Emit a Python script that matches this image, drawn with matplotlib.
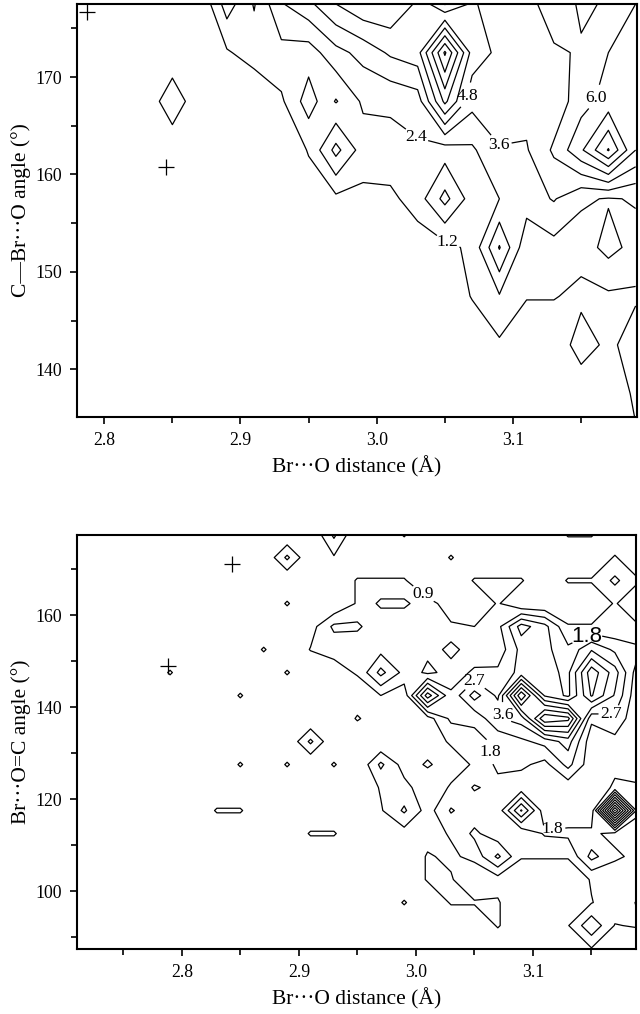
import numpy as np
import matplotlib.pyplot as plt
from matplotlib.ticker import MultipleLocator

plt.rcParams['font.family'] = ['Liberation Serif', 'DejaVu Serif']

# ---- upper panel: C-Br...O angle vs Br...O distance ----
top_x = np.round(np.arange(2.79, 3.191, 0.02), 2)          # bin centres (A)
top_y = np.array([177.5, 172.5, 167.5, 162.5, 157.5, 152.5, 147.5, 142.5, 137.5, 132.5])
top_counts = [
    [0, 0, 0, 0, 0, 3, 1.1, 3.5, 4.5, 6, 7, 7, 5.8, 3.5, 5, 4, 4, 6, 4.5, 5, 6],
    [0, 0, 0, 0, 0, 1.05, 1.8, 2.0, 1.8, 3.2, 4, 5, 5.5, 11, 5.5, 4.5, 4, 4.5, 5, 6, 6.5],
    [0, 0, 0, 2.3, 0, 0, 0, 1.0, 3, 1.1, 2.6, 2.6, 3, 7.5, 4, 4.5, 4, 4, 5.5, 6.5, 7],
    [0, 0, 0, 0, 0, 0, 0, 0, 1.3, 4, 1.8, 2, 2.2, 1.8, 2.2, 3.5, 3.5, 5, 7, 9.7, 6],
    [0, 0, 0, 0, 0, 0, 0, 0, 0.5, 0.9, 0.9, 0.9, 1.8, 4, 1.8, 2.4, 3, 3.7, 2.6, 2.3, 2.5],
    [0, 0, 0, 0, 0, 0, 0, 0, 0, 0, 0, 0, 0.5, 0.8, 1.5, 4.9, 1.5, 2, 1.8, 2.8, 2],
    [0, 0, 0, 0, 0, 0, 0, 0, 0, 0, 0, 0, 0, 0, 1.3, 2.3, 1.3, 1.3, 0.8, 1.0, 1.0],
    [0, 0, 0, 0, 0, 0, 0, 0, 0, 0, 0, 0, 0, 0, 0, 1, 0, 0, 2, 0.8, 2.0],
    [0, 0, 0, 0, 0, 0, 0, 0, 0, 0, 0, 0, 0, 0, 0, 0, 0, 0, 0, 0, 1.5],
    [0, 0, 0, 0, 0, 0, 0, 0, 0, 0, 0, 0, 0, 0, 0, 0, 0, 0, 0, 0, 1],
]
top_levels = [1.2, 2.4, 3.6, 4.8, 6.0, 7.2, 8.4, 9.6, 10.8]
top_label_vals = [1.2, 2.4, 3.6, 4.8, 6.0]
top_label_x = [3.052, 3.022, 3.091, 3.076, 3.171]
top_label_y = [153.0, 162.3, 160.1, 167.7, 167.4]
top_plus_x = [2.787, 2.845]
top_plus_y = [176.7, 160.8]

# ---- lower panel: Br...O=C angle vs Br...O distance ----
bot_x = np.round(np.arange(2.71, 3.191, 0.02), 2)
bot_y = np.arange(177.5, 87.0, -5.0)
bot_counts = [
    [0, 0, 0, 0, 0, 0, 0, 0, 0, 0, 0, 2, 0, 0, 1, 0, 0, 0, 0, 0, 0, 1, 1, 0, 1],
    [0, 0, 0, 0, 0, 0, 0, 0, 0, 2, 0, 0.8, 0, 0, 0, 0, 1, 0, 0, 0, 0, 0, 0, 1, 0],
    [0, 0, 0, 0, 0, 0, 0, 0, 0, 0, 0, 0, 1, 1, 1, 0, 0, 1, 1, 1, 0, 1, 1, 2, 1],
    [0, 0, 0, 0, 0, 0, 0, 0, 0, 1, 0, 0, 1, 2, 2, 1.2, 0.5, 0, 1, 0, 0, 0, 0, 1, 0],
    [0, 0, 0, 0, 0, 0, 0, 0, 0, 0, 0.5, 2, 2, 1, 1, 1, 1, 0.9, 1.5, 4, 3, 1, 1, 1, 1],
    [0, 0, 0, 0, 0, 0, 0, 0, 1, 0, 0.95, 1.2, 1, 1.5, 1, 1.1, 2.2, 1.1, 1.2, 3, 3, 2, 3.5, 2.5, 2],
    [0, 0, 0, 0, 1, 0, 0, 0, 0, 1, 0, 0.5, 1, 3, 1.5, 0.7, 1.2, 2, 2, 3, 3, 2.5, 6, 4, 1.2],
    [0, 0, 0, 0, 0, 0, 0, 1, 0, 0, 0, 0, 0.3, 0.9, 0.3, 5, 2, 4, 2.5, 8, 3.5, 2.5, 5.5, 3.5, 1],
    [0, 0, 0, 0, 0, 0, 0, 0, 0, 0, 0, 0, 1, 0.3, 0, 0.5, 2, 2, 3.5, 4, 8, 7.5, 2, 2.5, 1],
    [0, 0, 0, 0, 0, 0, 0, 0, 0, 0, 2, 0, 0, 0, 0, 0.5, 1, 1.5, 2, 2.5, 3, 4, 1.2, 1.5, 1.5],
    [0, 0, 0, 0, 0, 0, 0, 1, 0, 1, 0, 1, 0, 2, 0.5, 1, 0.5, 1, 2, 2, 1.5, 3, 1.2, 1.5, 1],
    [0, 0, 0, 0, 0, 0, 0, 0, 0, 0, 0, 0, 0, 1, 1.2, 0.3, 1, 1.9, 1.5, 1.2, 1.2, 1.2, 1, 2, 2],
    [0, 0, 0, 0, 0, 0, 1, 1, 0, 0, 0, 0, 0, 0.8, 1.95, 0.5, 1.9, 1.2, 1.2, 4.6, 1.2, 1.2, 1.2, 10, 2],
    [0, 0, 0, 0, 0, 0, 0, 0, 0, 0, 1, 1, 0, 0, 0.5, 0.5, 1, 2, 1.2, 1.0, 1.9, 2, 2, 1.5, 1.2],
    [0, 0, 0, 0, 0, 0, 0, 0, 0, 0, 0, 0, 0, 0, 0, 1, 0.7, 1.2, 2.9, 1.0, 1.0, 1.0, 3, 2, 1.5],
    [0, 0, 0, 0, 0, 0, 0, 0, 0, 0, 0, 0, 0, 0, 0, 1, 1, 0, 0.5, 0, 0, 0, 1, 1, 1.5],
    [0, 0, 0, 0, 0, 0, 0, 0, 0, 0, 0, 0, 0, 0, 1, 0, 1, 1, 1, 0, 0, 0, 0.85, 1.5, 0.8],
    [0, 0, 0, 0, 0, 0, 0, 0, 0, 0, 0, 0, 0, 0, 0, 0, 0, 0, 1, 0, 0, 0.85, 2.5, 0.85, 1],
    [0, 0, 0, 0, 0, 0, 0, 0, 0, 0, 0, 0, 0, 0, 0, 0, 0, 0, 0, 0, 0, 0, 0.85, 0, 0],
]
bot_levels = [0.9, 1.8, 2.7, 3.6, 4.5, 5.4, 6.3, 7.2, 8.1, 9.0, 9.9]
bot_label_vals = [0.9, 2.7, 3.6, 2.7, 1.8, 1.8]
bot_label_x = [3.009, 3.051, 3.069, 3.167, 3.069, 3.116]
bot_label_y = [165.4, 147.4, 138.3, 138.7, 130.6, 115.1]
bot_big_label = (1.8, 3.151, 152.8)
bot_plus_x = [2.843, 2.788]
bot_plus_y = [171.1, 148.9]


def draw_panel(ax, xs, ys, counts, levels, lab_vals, lab_x, lab_y, big=None):
    Z = np.array(counts, dtype=float)[::-1]
    Y = np.array(ys)[::-1]
    # one contour set per level, so manual labels go on the right line
    for lev in levels:
        cs = ax.contour(xs, Y, Z, levels=[lev], colors='k', linewidths=0.9)
        pts = [(x, y) for v, x, y in zip(lab_vals, lab_x, lab_y) if np.isclose(v, lev)]
        if pts:
            ax.clabel(cs, manual=pts, fmt='%.1f', fontsize=12.5,
                      inline=True, inline_spacing=2)
        if big is not None and np.isclose(big[0], lev):
            txt = ax.clabel(cs, manual=[big[1:]], fmt='%.1f', fontsize=16,
                            inline=True, inline_spacing=2)
            txt[-1].set_family(['Liberation Sans', 'DejaVu Sans'])
        for t in cs.labelTexts:
            t.set_rotation(0)


def style_axes(ax, xmaj, xmin, ymaj, ymin):
    ax.xaxis.set_major_locator(MultipleLocator(xmaj))
    ax.xaxis.set_minor_locator(MultipleLocator(xmin))
    ax.yaxis.set_major_locator(MultipleLocator(ymaj))
    ax.yaxis.set_minor_locator(MultipleLocator(ymin))
    ax.xaxis.set_major_formatter(lambda v, p: f'{v:.1f}')
    ax.yaxis.set_major_formatter(lambda v, p: f'{v:.0f}')
    ax.tick_params(which='both', direction='out', top=False, right=False,
                   width=1.2, labelsize=12.8, pad=6)
    ax.tick_params(which='major', length=5)
    ax.tick_params(which='minor', length=4)
    for s in ax.spines.values():
        s.set_linewidth(1.5)


fig = plt.figure(figsize=(6.4, 10.14), dpi=100)

ax1 = fig.add_axes([0.1203, 0.5888, 0.875, 0.4073])
draw_panel(ax1, top_x, top_y, top_counts, top_levels,
           top_label_vals, top_label_x, top_label_y)
ax1.plot(top_plus_x, top_plus_y, '+', color='k', ms=12, mew=0.9)
ax1.set_xlim(2.780, 3.191)
ax1.set_ylim(135.1, 177.5)
style_axes(ax1, 0.1, 0.05, 10, 5)
ax1.set_xlabel('Br\u00b7\u00b7\u00b7O distance (\u00c5)', fontsize=15.5, labelpad=5)
ax1.set_ylabel('C\u2014Br\u00b7\u00b7\u00b7O angle (\u00b0)', fontsize=15.5, labelpad=3)

ax2 = fig.add_axes([0.1203, 0.0641, 0.8734, 0.4083])
draw_panel(ax2, bot_x, bot_y, bot_counts, bot_levels,
           bot_label_vals, bot_label_x, bot_label_y, big=bot_big_label)
ax2.plot(bot_plus_x, bot_plus_y, '+', color='k', ms=12, mew=0.9)
ax2.set_xlim(2.7105, 3.188)
ax2.set_ylim(87.4, 177.4)
style_axes(ax2, 0.1, 0.05, 20, 10)
ax2.set_xlabel('Br\u00b7\u00b7\u00b7O distance (\u00c5)', fontsize=15.5, labelpad=5)
ax2.set_ylabel('Br\u00b7\u00b7\u00b7O=C angle (\u00b0)', fontsize=15.5, labelpad=3)

fig.savefig('out.png', dpi=100)
